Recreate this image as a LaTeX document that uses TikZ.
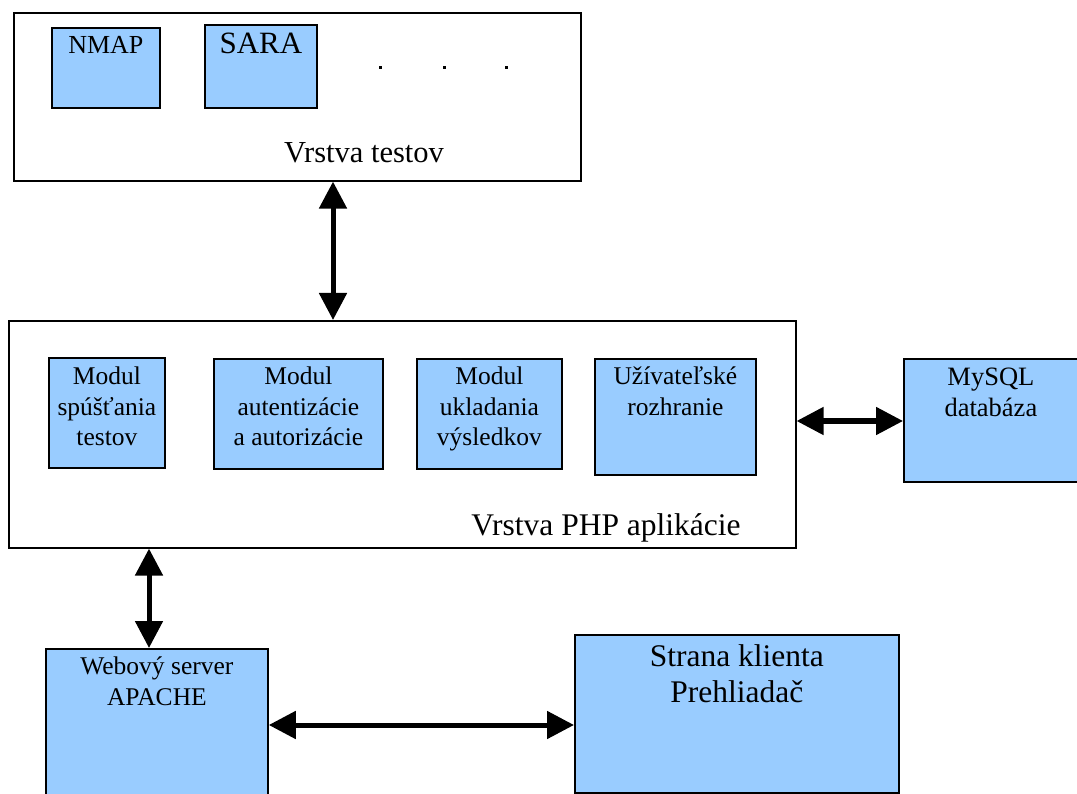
\documentclass[tikz,border=0pt]{standalone}
\usepackage{fontspec}
\setmainfont{Liberation Serif}
\usetikzlibrary{arrows.meta}
\definecolor{boxblue}{HTML}{99CCFF}
\tikzset{
  layer/.style={draw=black, line width=1.6pt, fill=white, anchor=north west, inner sep=0pt},
  bluebox/.style={draw=black, line width=1.8pt, fill=boxblue, anchor=north west, inner sep=0pt},
  boxtext/.style={anchor=north, inner sep=0pt, align=center},
  dbl/.style={line width=5pt, {Triangle[length=27pt,width=27pt]}-{Triangle[length=27pt,width=27pt]}},
  dotsq/.style={fill=black, inner sep=0pt, minimum size=3pt}
}
\begin{document}
\begin{tikzpicture}[x=1pt, y=-1pt]
\useasboundingbox (0,0) rectangle (1077,794);
% top layer
\node[layer, minimum width=567pt, minimum height=168pt] (testy) at (13,12) {};
\node[bluebox, minimum width=108pt, minimum height=80pt] (nmap) at (51,27) {};
\node[boxtext, font=\fontsize{26}{30}\selectfont] (nmapt) at ([yshift=-9pt]nmap.north) {NMAP};
\node[bluebox, minimum width=112pt, minimum height=83pt] (sara) at (204,24) {};
\node[boxtext, font=\fontsize{31}{34}\selectfont] (sarat) at ([yshift=-9pt]sara.north) {SARA};
\node[dotsq] (d1) at (380,68) {};
\node[dotsq] (d2) at (444,68) {};
\node[dotsq] (d3) at (506,68) {};
\node[anchor=base, inner sep=0pt, font=\fontsize{30.5}{34}\selectfont] (testyt) at (364,163) {Vrstva testov};
% PHP layer
\node[layer, minimum width=787pt, minimum height=227pt] (php) at (8,320) {};
\node[bluebox, minimum width=116pt, minimum height=110pt] (m1) at (48,357) {};
\node[boxtext, font=\fontsize{25.5}{30.5}\selectfont] (m1t) at ([yshift=-10pt]m1.north) {Modul\\spúšťania\\testov};
\node[bluebox, minimum width=169pt, minimum height=110pt] (m2) at (213,358) {};
\node[boxtext, font=\fontsize{25.5}{30.5}\selectfont] (m2t) at ([yshift=-9pt]m2.north) {Modul\\autentizácie\\a autorizácie};
\node[bluebox, minimum width=145pt, minimum height=110pt] (m3) at (416,358) {};
\node[boxtext, font=\fontsize{25.5}{30.5}\selectfont] (m3t) at ([yshift=-9pt]m3.north) {Modul\\ukladania\\výsledkov};
\node[bluebox, minimum width=161pt, minimum height=116pt] (m4) at (594,358) {};
\node[boxtext, font=\fontsize{25.5}{30.5}\selectfont] (m4t) at ([yshift=-9pt]m4.north) {Užívateľské\\rozhranie};
\node[anchor=base, inner sep=0pt, font=\fontsize{31.5}{34}\selectfont] (phpt) at (606,535) {Vrstva PHP aplikácie};
% MySQL
\node[bluebox, minimum width=180pt, minimum height=123pt] (db) at (903,358) {};
\node[boxtext, font=\fontsize{26.5}{31}\selectfont] (dbt) at ([xshift=-3pt, yshift=-10pt]db.north) {MySQL\\databáza};
% bottom
\node[bluebox, minimum width=222pt, minimum height=160pt] (web) at (45,648) {};
\node[boxtext, font=\fontsize{25.5}{31}\selectfont] (webt) at ([yshift=-9pt]web.north) {Webový server\\APACHE};
\node[bluebox, minimum width=324pt, minimum height=158pt] (cli) at (574,634) {};
\node[boxtext, font=\fontsize{31.5}{36}\selectfont] (clit) at ([yshift=-10pt]cli.north) {Strana klienta\\Prehliadač};
% connectors
\coordinate (ax1) at (333,0);
\coordinate (ax2) at (149,0);
\coordinate (ay1) at (0,421);
\coordinate (ay2) at (0,725);
\draw[dbl] (testy.south -| ax1) -- (php.north -| ax1);
\draw[dbl] (php.south -| ax2) -- (web.north -| ax2);
\draw[dbl] (php.east |- ay1) -- (db.west |- ay1);
\draw[dbl] (web.east |- ay2) -- (cli.west |- ay2);
\end{tikzpicture}
\end{document}
